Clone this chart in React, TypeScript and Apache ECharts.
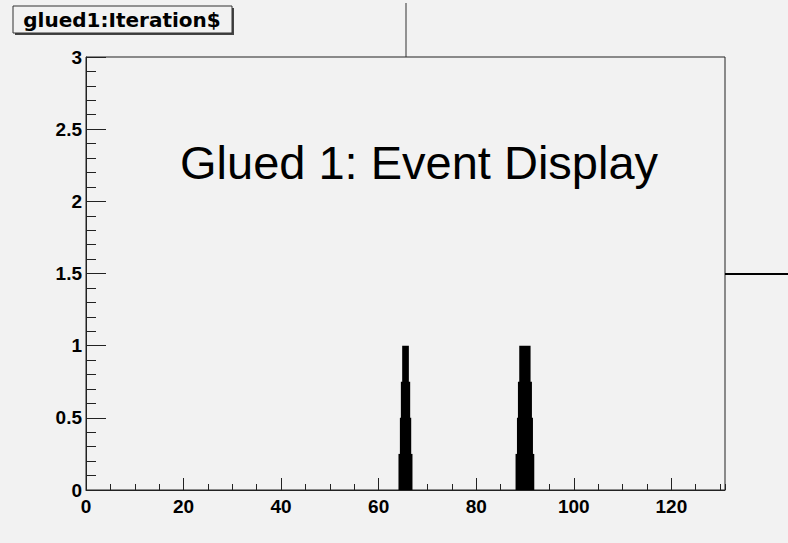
import React, { useEffect, useRef } from "react";
import * as echarts from "echarts";

// ---- data ----
const xTickStep = 20;
const xMinorStep = 5;
const xMax = 131;
const yMax = 3;
const yTickStep = 0.5;

// Stepped peaks (levels of glued1 for Iteration$ ranges)
const stepTops = [0.25, 0.5, 0.75, 1];
const peak1Start = [64.06, 64.35, 64.55, 64.82];
const peak1End = [66.93, 66.67, 66.46, 66.19];
const peak2Start = [88.06, 88.35, 88.55, 88.82];
const peak2End = [91.9, 91.63, 91.42, 91.14];

const boxTitle = "glued1:Iteration$";
const mainTitle = "Glued 1: Event Display";

const BG = "#f2f2f2";

export default function App() {
  const ref = useRef<HTMLDivElement | null>(null);

  useEffect(() => {
    if (!ref.current) return;
    const chart = echarts.init(ref.current, null, { renderer: "svg" });

    const rects: number[][] = [];
    stepTops.forEach((t, i) => rects.push([peak1Start[i], peak1End[i], t]));
    stepTops.forEach((t, i) => rects.push([peak2Start[i], peak2End[i], t]));

    const labelStyle = {
      fontFamily: "Liberation Sans, Arial, sans-serif",
      fontWeight: "bold" as const,
      fontSize: 19,
      color: "#000",
    };

    const option: any = {
      animation: false,
      backgroundColor: BG,
      grid: {
        left: 86,
        right: 63,
        top: 57,
        bottom: 53,
        show: true,
        borderColor: "#222",
        borderWidth: 1,
        backgroundColor: "transparent",
        containLabel: false,
      },
      xAxis: [
        {
          type: "value",
          min: 0,
          max: xMax,
          interval: xTickStep,
          position: "bottom",
          axisLine: { show: true, lineStyle: { color: "#222", width: 1 } },
          axisTick: { show: true, inside: true, length: 12, lineStyle: { color: "#222" } },
          minorTick: { show: false },
          splitLine: { show: false },
          axisLabel: { ...labelStyle, margin: 7, showMaxLabel: false, hideOverlap: false },
        },
        {
          type: "value",
          min: 0,
          max: xMax,
          interval: xMinorStep,
          position: "bottom",
          axisLine: { show: false },
          axisTick: { show: true, inside: true, length: 6, lineStyle: { color: "#222" } },
          splitLine: { show: false },
          axisLabel: { show: false },
        },
      ],
      yAxis: {
        type: "value",
        min: 0,
        max: yMax,
        interval: yTickStep,
        axisLine: { show: true, lineStyle: { color: "#222", width: 1 } },
        axisTick: { show: true, inside: true, length: 20, lineStyle: { color: "#222" } },
        minorTick: { show: true, splitNumber: 5, length: 10, lineStyle: { color: "#222" } },
        splitLine: { show: false },
        minorSplitLine: { show: false },
        axisLabel: { ...labelStyle, margin: 4, hideOverlap: false },
      },
      series: [
        {
          type: "custom",
          xAxisIndex: 0,
          yAxisIndex: 0,
          clip: true,
          data: rects,
          encode: { x: [0, 1], y: 2 },
          renderItem: (_params: any, api: any) => {
            const p0 = api.coord([api.value(0), api.value(2)]);
            const p1 = api.coord([api.value(1), 0]);
            return {
              type: "rect",
              shape: { x: p0[0], y: p0[1], width: p1[0] - p0[0], height: p1[1] - p0[1] },
              style: { fill: "#000" },
            };
          },
        },
      ],
      graphic: [
        {
          type: "line",
          shape: { x1: 406, y1: 3, x2: 406, y2: 57 },
          style: { stroke: "#333", lineWidth: 1 },
          silent: true,
        },
        {
          type: "line",
          shape: { x1: 725, y1: 274, x2: 788, y2: 274 },
          style: { stroke: "#000", lineWidth: 2 },
          silent: true,
        },
        {
          type: "rect",
          shape: { x: 15, y: 8, width: 219, height: 27 },
          style: { fill: "#444" },
          silent: true,
        },
        {
          type: "rect",
          shape: { x: 13, y: 6, width: 219, height: 27 },
          style: { fill: BG, stroke: "#333", lineWidth: 1 },
          silent: true,
        },
        {
          type: "text",
          x: 122,
          y: 20,
          style: {
            text: boxTitle,
            fontFamily: "DejaVu Sans, sans-serif",
            fontWeight: "bold",
            fontSize: 20,
            fill: "#000",
            align: "center",
            verticalAlign: "middle",
          },
          silent: true,
        },
        {
          type: "text",
          x: 180,
          y: 162,
          style: {
            text: mainTitle,
            fontFamily: "Liberation Sans, Arial, sans-serif",
            fontSize: 47,
            fill: "#000",
            align: "left",
            verticalAlign: "middle",
          },
          silent: true,
        },
      ],
    };

    chart.setOption(option);
    return () => chart.dispose();
  }, []);

  return (
    <div
      ref={ref}
      style={{ position: "absolute", left: 0, top: 0, width: 788, height: 543 }}
    />
  );
}
